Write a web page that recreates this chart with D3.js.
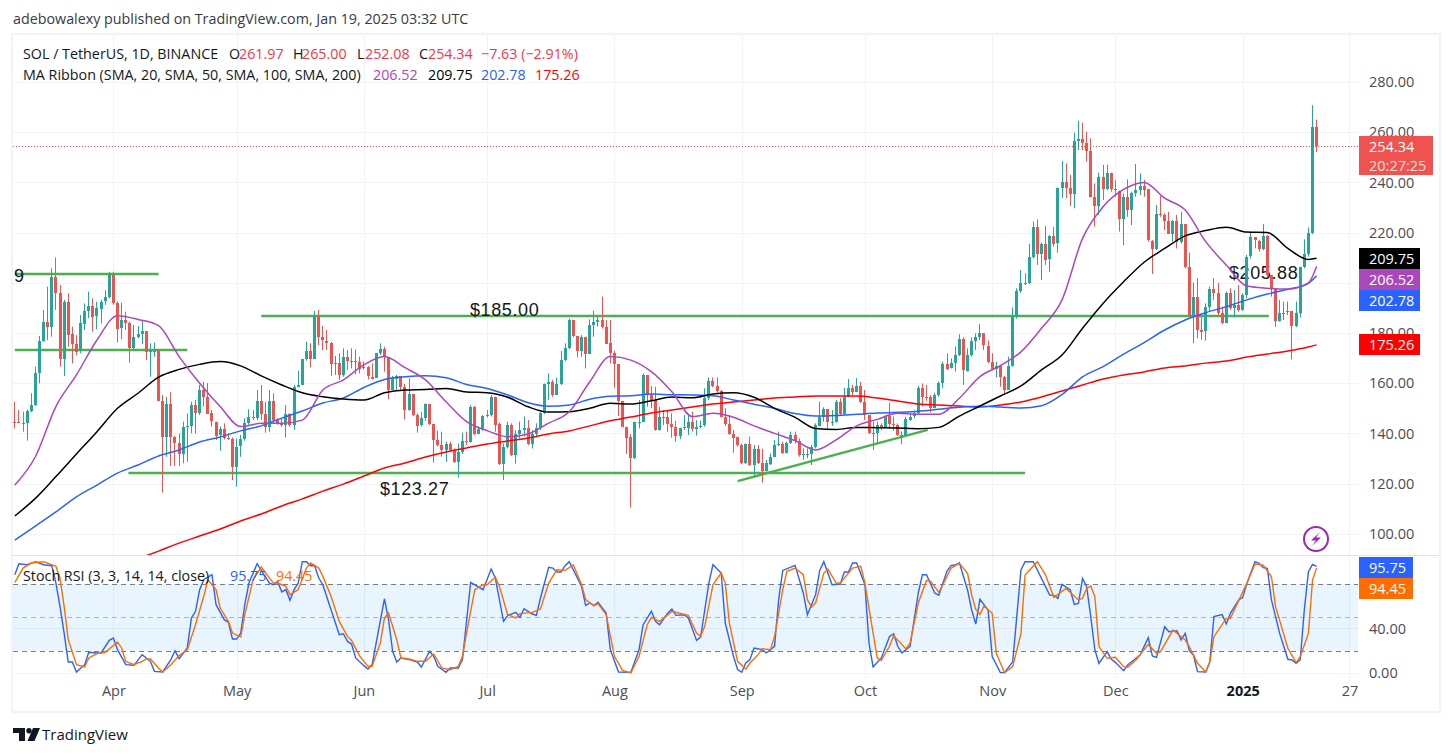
<!DOCTYPE html>
<html>
<head>
<meta charset="utf-8">
<script src="https://cdn.jsdelivr.net/npm/d3@7"></script>
<style>
  html, body { margin: 0; padding: 0; background: #fff; overflow: hidden; }
  text { font-family: "Open Sans", "Noto Sans", sans-serif; }
</style>
</head>
<body>
<script>
// daily candles, first one is 8 Mar 2024. open of a candle = close of the one before
const firstDay = new Date(Date.UTC(2024, 2, 8));
const firstOpen = 144.6;

const closes = [144.4,144.3,144.1,148.9,151.3,163.9,176.8,184.4,182.3,202.4,
196.1,169.9,192.5,179.5,175.6,172.6,183.9,188.9,190.8,186.5,
189.8,192.5,194.2,203.1,192.1,181.9,185.2,184.1,174.3,178.5,
179.5,180.8,172.6,172.8,172.8,153,138.7,151.7,138.7,136.3,
131.8,142.7,143,151.3,148.3,157.3,154.6,148,144.7,139.1,
141.6,138,137.9,126.8,134.7,137.6,144,146.4,146.3,152.9,
147.7,142.4,152.9,145.4,144.3,143.4,147.7,143.4,158.6,159.3,
169.6,172.8,169.6,187.2,178.3,177,176.2,167.7,168.2,163.3,
170.3,168.6,168.8,168.6,165.9,166.3,162.6,161.9,171.9,173.6,
170.3,157.3,161.9,162.9,158.6,149.3,155.6,147.3,143.1,146,
151.7,143.7,137.4,135.4,133.4,135.8,133.4,128.7,132.7,137,
136.7,150.6,139.7,141.6,146.9,147.3,154.6,143.6,127.8,134.7,
143.3,131.4,139.6,141.3,142,135.8,139.8,142,148,159.7,
160.6,155.3,159.7,169.2,173.9,185.2,178.8,172.8,178.5,171.6,
183.2,184.5,185.2,182.5,175.9,171.9,167.6,153,142.7,138.4,
130,144.4,144.7,163.3,155.3,153.3,141.4,146.7,146.4,143.8,
142.7,139,142,142.4,144.7,142,142.7,143.1,154,160.9,
159,156.9,146.7,143.8,139.8,138.4,135.4,128.1,135.6,127.4,
133.8,128.1,124.8,128.1,130.7,135.4,135.8,132.3,136.3,139.4,
137.1,131.4,131.8,131.8,134.5,143.3,146.7,149.7,144.7,144.7,
152.6,147.7,154.6,158,156.6,158.9,152.6,147.3,140.3,140,
143.3,142,146.9,143.8,143.4,139.4,139.4,145.6,146.7,148,
158,154.6,154.4,150,155.3,160,167.7,165.9,167.9,171.2,
177.5,165,171.2,176.9,178.3,179.9,175,168.6,165.9,167,
162.6,157.6,167,186.5,196.9,200.1,200.1,210.4,222.4,211.5,
215.5,209.3,218.6,215.5,237.6,240,237.6,235.4,256.4,257.2,
255.6,252.6,234.3,230.6,242,237.2,243.6,237.2,236.7,225.7,
234.3,229,235.9,237,238.6,237.2,216.8,213.5,227.4,227,
224.8,219.7,224.8,216.4,223.4,206.2,187.2,194.5,181.2,180.5,
190.2,197.4,195.8,187.8,183.9,196,190.2,191.2,189.2,195.1,
210.4,218.1,216.8,213.5,218.6,203.1,197.8,184.5,187.8,188.1,
188.6,182.5,187.8,206.2,211.5,219.7,261.97,254.34];

const highs = [152.6,149.3,148.7,149.5,156,166.6,178.8,189.2,198.5,205.8,
210.1,199.1,193.2,195.8,182.5,179.2,187.2,191.8,196.5,193.8,
192.5,193.2,197.1,204.4,204.4,192.5,192.1,188.5,184.5,183.2,
182.8,185.2,180.8,175.9,176.2,173.2,155.3,154.6,156.4,138.9,
140,144.7,148,152.6,153.3,159.3,160.6,160,149.3,144.7,
142.7,144,140,138.4,138,139.4,146,149.6,149.3,157.3,
159.3,152.6,157.3,156,146,146,151.3,148,159.3,165,
169.6,176.5,175.9,188.8,189.2,182.8,181.2,176.4,170.8,171.9,
173.9,173.2,173.9,173.5,170.6,168.6,166.8,167.9,172.1,175.9,
174.5,170.3,162.9,163.3,162.9,159.7,161.9,155.3,148,148.6,
152,151.7,143.7,141.1,140.7,136.7,136.7,134,136,140.3,
140.7,151.3,150.9,142.7,147.3,149.3,155.3,154.6,144.3,136,
144.7,144,141.3,144.7,146.7,145.3,141.3,144,148.6,159.9,
163.9,161.3,162.2,172.9,175.9,185.8,185.2,178.8,179.2,178.5,
185.4,188.9,187.2,194.5,185.2,185.2,172.9,167.6,153,142.7,
139.7,144.7,153.3,163.9,163.3,158.9,158.6,150.6,149.3,149.3,
148,145,142.3,147.3,147.3,148.7,145.3,145.1,158,162.3,
162.3,162.3,157.3,150,147.3,141.4,138.7,135.8,136,138.7,
135.4,135.4,133.8,129.4,132,137.4,140.7,136.7,136.7,140.7,
140.7,138,134,134,135.4,144,152.6,150.4,149.7,149.3,
153.3,154,158.2,161.7,159.3,162,160.6,157.3,146.7,144.7,
144.7,144,147.3,152.2,146.7,144,140.7,146.7,148,149.1,
158.9,159.9,159.3,155.3,156.2,160.6,168.6,171.9,169.9,174.6,
179.5,178.3,173.9,178.3,179.9,183.6,179.9,177,171.9,168.6,
167.3,162.9,170.6,190.2,197.8,205.1,203.8,215.5,224.4,225.3,
216,222.6,219,222.3,238,248.5,247.6,243,259.8,264.5,
263.8,260.2,257.6,239.6,243.9,247,247,243.9,241,236.7,
235.6,241.2,236.3,247.3,243.6,241,237.2,217.1,231,234.6,
227.7,228.3,225,227,228.3,223.4,212,200,201.8,186.5,
191.8,198.5,201.8,200,190.5,196.5,197.8,197.1,199.1,195.8,
211.1,220.4,218.1,217.1,223.4,219,203.1,197.8,193.2,192.5,
192.5,188.6,192.5,206.4,217.3,222.1,270.8,265];

const lows = [142,144,140.7,137.1,148.4,151,160,176.5,177.2,178.5,
189.2,166.6,162.9,174.6,167.9,171.2,171.9,181.2,185.9,180.5,
181.5,183.9,191.2,193.8,191.2,176.2,177.5,181.2,168.2,173.2,
177.9,175.6,169.2,162.6,170.6,153,116.4,130.7,127,127,
127,128.1,128.7,140,140,147.3,150.7,147.7,142.7,137.4,
133.1,137.6,137.4,121.4,118.8,130.7,137.1,143.4,145.3,145.3,
145.3,140.3,140.7,144,143.4,142.7,138.3,142.7,141.4,158.4,
159.3,169,166.3,169.6,175.2,173.2,173.2,162.9,163.3,161.3,
162.6,165.2,165.9,163.6,163.9,165.5,161.5,161.5,164.6,171.2,
164.6,153.6,157.3,157,157.3,145.6,149,146.9,140.3,142.7,
145,143.3,128.3,134.7,130.7,128.7,132.7,128.3,122.4,131.8,
135.4,136.3,139.3,139.7,141.1,146.4,146.7,140.7,127.4,121.4,
134,131,128,138,138.7,135.4,134,138.7,141.3,147.7,
153.3,154.6,155.3,159.3,168.8,173.5,178.3,170.3,170.6,165.9,
171.6,178.5,182.5,181.8,175.6,167.9,158.2,146.9,142.7,131.8,
110.5,129.8,142,144.7,150.6,150,141.1,141.1,143.3,140.7,
138.3,136.7,137.8,141.4,139.4,140.7,139.1,142,142.7,153.3,
158.4,156,146.4,143,139.4,132.3,134.7,127.8,127.8,127.1,
123,127.8,120.4,124.8,127.4,130.5,135,131.8,132,135.8,
136,130.7,129.4,130.1,127.4,134,142.7,144.7,141.4,143,
144.3,147.3,147.3,154.4,155.3,156.6,152.2,145.3,139.8,133.4,
136,141.4,142,142,141.1,139,135.8,139,145,146,
147.3,150.7,153,148.3,150,154.6,158,165.3,165.9,164.6,
170.8,159.3,164.6,170.6,173.2,177.2,173.2,168,165.3,162.3,
158.6,155.3,157.3,166.6,185.8,196,199.1,199.5,209.7,207.1,
201.1,207.1,204.4,214.4,212,233.7,233.7,230.6,229.7,252.9,
252.9,248.3,234,222.4,227,233,237,236.3,234.3,220.4,
215,226.3,223,234.3,235,234.3,216.4,203.5,213,226.3,
221,219.4,216.4,213.7,215.7,205.8,186.5,175.9,177.9,177.2,
176.9,188.5,193.2,187.2,183.6,183.9,189.2,186.2,188.5,188.9,
193.8,209.7,213.7,212.4,213,202.4,194.5,182.5,184.5,185.2,
187.2,169.5,182.3,186.2,205.8,210.4,219.4,252.08];

// moving averages every 5th candle (and the last one)
const ma20 = [119.4,130.7,150.7,163.3,177.2,186.9,185.4,182.9,170.6,160,150.7,142.7,144,144,145.3,157.3,161.3,
167.3,170.6,166.2,161.3,152.6,144.7,141.1,138.7,139.8,144.1,148.6,160.6,170.6,169.2,164.6,
156.6,146.7,148,146.4,143,140,137.1,133.4,137.4,143,145.6,148,147.6,147.6,154,162.6,167,
172.5,181.9,193.2,217.7,230.3,237.2,240,233.7,229,216.4,207.1,198.7,197.8,197.5,200,206.52];
const ma50 = [107.1,114.1,122.8,131.8,140.7,150,156,162.4,165.5,167.5,168.6,166.9,162.9,159.3,156.2,154.6,153.7,
153.3,156.2,157.3,157.5,157.9,156.5,156.2,154.4,150.6,148.5,148.6,150,152,151.7,153,
154.5,154.2,155.7,156.2,154.4,150,146.4,142,141.6,142.4,142.3,142.2,141.9,142.4,146.9,150.9,154.9,
158.9,165.3,171.2,181.9,191.8,200.4,208.2,213.7,218.7,220.8,222.1,220.2,220,213.7,209.3,209.75];
const ma100 = [97.5,103.1,108.7,114.7,119.4,124.2,127.4,131,133.4,136.6,138.6,141,143,146.1,148.9,152.1,154.1,
158.3,161.5,162.6,163,162.2,159.5,157.9,155.3,152.2,150.8,151.3,153.6,154.8,155,155.7,
155.4,155.3,155,153.3,151.6,150,147.9,146.9,147.1,147.6,148.1,148.4,148.8,149.6,150.4,150.8,150.5,
150.1,151,155.5,162.5,166.6,171.6,176.2,181.2,185.2,188.1,190.5,193.2,195.5,197.4,199.8,202.78];
// ma200 only comes into the visible pane around candle 34
const ma200 = [90.1,93.1,96.3,99.1,101.9,105.1,107.9,111.1,113.9,117,119.8,
123,126.2,128.2,130.6,132.6,134.2,135.8,137,138.2,139.8,
141,143,145,146.5,148.1,149.3,150.5,151.7,152.5,153.3,
154.1,154.5,154.9,154.9,154.9,154.1,152.9,151.7,151.3,150.9,
150.5,151.3,152.5,154.5,156.9,159.3,161.7,163.3,164.5,166.1,
166.9,168,168.8,170.4,171.6,172.8,174.4,175.26];

// stoch rsi, corners of the lines: candle number + value
const kDays = [1,2,4,6,8,10,11,12,13,14,15,16,18,19,21,22,24,25,26,28,30,32,34,35,37,39,40,41,43,44,45,46,47,49,50,52,53,54,55,56,57,58,60,63,64,65,66,67,68,69,70,71,72,73,74,75,76,78,80,81,82,83,84,86,87,88,91,92,93,94,95,97,99,100,102,103,104,106,107,109,110,112,
115,117,118,120,121,123,124,125,127,128,129,131,132,133,134,135,136,139,140,141,142,143,145,146,148,151,153,154,156,157,158,160,161,162,164,165,167,168,170,171,173,174,176,177,178,179,180,181,183,184,186,187,188,191,193,194,196,197,198,200,202,203,204,205,206,208,209,210,212,214,215,216,217,219,221,222,223,225,226,228,229,
230,231,233,234,235,236,238,239,241,242,244,246,247,249,253,254,255,256,258,259,260,261,262,263,264,265,267,268,269,271,272,274,275,277,278,279,281,282,284,285,286,287,288,289,291,292,293,295,296,297,299,300,301,303,304,305,306,307,309,311,312,313,314,315,316,317,318];
const kValues = [88.3,98.2,97.3,100,97.3,96.4,80.8,59.9,35.9,9.9,9.9,0.9,7.5,18.6,18,18,29.3,31.4,21,7.5,6.9,16.5,10.5,1.5,0.9,12,20,12.9,22.5,49.4,55.4,74.9,83.8,88.3,61.4,47.9,45.5,30.5,30.5,35.9,61.4,80.8,98.2,80.8,79.3,82.3,72.8,74.9,65.3,74.9,80.8,100,100,96.4,96.4,85.3,79.3,56.9,34.4,35.3,28.4,26,13.5,6.6,3.6,7.5,66.5,47.9,19.5,9.9,13.5,12,9.9,5.4,19.5,15,6,0.6,4.5,4.5,12,81.4,
74.9,93.4,85.3,46.4,51.5,54.5,50,57.8,53,51.8,67.4,94.9,94.3,90.7,90.7,96.4,100,77.8,60.8,62.9,60.5,63.5,53.9,21,0.9,0.6,21,43.4,55.4,46.4,43.4,53.9,57.5,51.8,52.4,49.4,29.3,32.3,80.8,97.3,89.8,44.9,15,3,0.6,9,12,22.5,21,18,23.9,65.9,92.2,96.7,71.9,52.4,70.4,92.2,100,79.3,79.9,90.7,90.7,98.8,98.8,79.3,26.9,5.4,13.5,32.9,35.3,24,18,24,71.9,88.3,88.3,71.9,69.8,91.6,96.7,
97,99.1,74.6,56.6,44,66.2,56.6,14.7,0.3,0.3,10.2,92.5,100,100,70.1,69.8,67.1,79.6,74.6,61.7,62.6,85,77.5,50.6,20.7,8.7,19.2,12.3,9.6,2.1,7.2,13.2,16.2,31.7,15.3,14.1,41.6,37.1,38,29.6,35.6,20.1,16.2,1.2,0.9,10.2,50.6,52.4,44,53.6,65.6,67.7,80.5,100,98.5,94.6,94,65.6,35.6,12.3,11.7,8.7,11.7,56.6,91,97.6,95.75];
const dDays = [1,3,5,8,11,12,13,14,16,18,19,21,23,26,27,28,30,32,33,34,36,37,39,41,43,45,47,48,50,51,53,54,56,57,59,61,63,64,65,67,68,70,72,73,75,76,78,80,82,83,85,87,88,90,91,92,94,95,97,99,101,103,105,107,109,110,111,113,115,
116,118,119,121,123,124,127,129,131,133,135,137,139,140,142,143,145,147,149,151,153,155,156,158,161,165,167,168,169,171,173,174,175,177,179,180,182,183,185,186,188,189,191,193,194,195,196,198,199,201,202,205,207,208,210,211,212,214,215,218,219,221,223,224,226,227,229,
231,233,234,235,236,237,239,240,242,244,246,247,250,252,254,257,260,261,262,263,264,265,267,269,271,272,274,277,279,280,283,286,287,289,291,292,293,296,297,301,303,305,307,308,311,313,314,316,317,318];
const dValues = [81.4,94.3,98.8,100,95.8,85.3,59.9,29.9,7.5,5.4,13.5,17.4,18.6,27.8,22.5,10.5,7.5,10.5,12.6,12.6,4.5,0.9,7.5,15.6,21,43.4,68.9,83.8,74.9,58.4,46.4,35.9,32.3,52.4,83.8,95.2,85.3,80.8,80.8,77.8,70.4,74.9,94.3,98.8,94.3,86.8,68.9,46.4,32.9,29.3,15,6,6,26.9,49.4,53.9,29.9,13.5,12.6,10.5,10.5,17.1,4.5,3,6,15,35.9,74.9,79.3,
79.3,86.2,77.8,52.4,49.4,53.3,54.5,57.5,80.8,92.8,92.2,97.3,79.3,65.9,60.5,62.3,52.4,15,2.4,0,15,43.4,50,46.4,55.4,51.8,35.9,32.9,41.9,79.3,89.8,80.8,44.9,10.5,3.6,9,16.5,21.9,21,32.9,74.9,91.3,94.3,88.3,65.9,59.3,62.9,89.8,93.4,80.8,80.8,94.3,95.8,80.8,35.9,13.5,11.4,24,33.5,21.6,26.9,62.9,83.2,82.3,72.5,79.3,94.3,
98.5,89.5,70.1,57.2,52.7,60.2,53.6,17.7,0.3,5.7,35.6,88,100,88,68,76,65.6,67.1,76,78.1,68.6,23.7,13.2,14.1,5.7,5.1,11.7,25.7,17.7,19.2,38.6,29.6,23.7,8.7,0.9,10.2,32.6,49.1,49.1,80.5,97.9,97,86.5,59.6,22.2,9.3,14.7,35.6,83.5,94.45];

const priceTicks = [100,120,140,160,180,200,220,240,260,280];
const stochTicks = [0,40];
const monthDates = [[2024,3,1],[2024,4,1],[2024,5,1],[2024,6,1],[2024,7,1],[2024,8,1],[2024,9,1],[2024,10,1],[2024,11,1],[2025,0,1],[2025,0,27]]
    .map(function (d) { return new Date(Date.UTC(d[0], d[1], d[2])); });
const monthLabels = ["Apr","May","Jun","Jul","Aug","Sep","Oct","Nov","Dec","2025","27"];

// drawn levels: candle from, price from, candle to, price to
const greenLines = [[1,203.5,36,203.5],[1,173.2,43,173.2],[61,186.8,306.4,186.8],[28.7,124.2,247,124.2],[177,121,223.3,141.4]];

const upColor = "#26a69a", downColor = "#ef5350";
const width = 1453, height = 756;
const left = 13, right = 1358, paneTop = 35, paneBottom = 555, stochBottom = 678;

const svg = d3.select("body").append("svg")
    .attr("width", width)
    .attr("height", height)
    .style("display", "block");

const x = d3.scaleUtc()
    .domain([monthDates[0], monthDates[9]])
    .range([113.4, 1242.7]);
const y = d3.scaleLinear().domain([100, 280]).range([533.8, 82]);
const yStoch = d3.scaleLinear().domain([0, 100]).range([673, 561.7]);

function dayDate(i) {
    return d3.utcHour.offset(firstDay, (i - 1) * 24);
}
function xDay(i) {
    return x(dayDate(i));
}

// grid
const grid = svg.append("g");
grid.selectAll(".v").data(monthDates).enter().append("line")
    .attr("x1", function (d) { return Math.round(x(d)) + 0.5; })
    .attr("x2", function (d) { return Math.round(x(d)) + 0.5; })
    .attr("y1", paneTop).attr("y2", stochBottom)
    .attr("stroke", "#f0f3fa");
grid.selectAll(".h").data(priceTicks).enter().append("line")
    .attr("x1", left).attr("x2", right)
    .attr("y1", function (d) { return Math.round(y(d)) + 0.5; })
    .attr("y2", function (d) { return Math.round(y(d)) + 0.5; })
    .attr("stroke", "#f0f3fa");
grid.selectAll(".hs").data(stochTicks).enter().append("line")
    .attr("x1", left).attr("x2", right)
    .attr("y1", function (d) { return Math.round(yStoch(d)) + 0.5; })
    .attr("y2", function (d) { return Math.round(yStoch(d)) + 0.5; })
    .attr("stroke", "#f0f3fa");

// clips
const defs = svg.append("defs");
defs.append("clipPath").attr("id", "mainClip").append("rect")
    .attr("x", left).attr("y", paneTop).attr("width", right - left).attr("height", paneBottom - paneTop);
defs.append("clipPath").attr("id", "stochClip").append("rect")
    .attr("x", left).attr("y", paneBottom + 1).attr("width", right - left).attr("height", stochBottom - paneBottom - 1);
defs.append("clipPath").attr("id", "axisClip").append("rect")
    .attr("x", right).attr("y", paneBottom + 1).attr("width", 90).attr("height", stochBottom - paneBottom - 1);

// main pane
const main = svg.append("g").attr("clip-path", "url(#mainClip)");

// last price line
main.append("line")
    .attr("x1", left).attr("x2", right)
    .attr("y1", Math.round(y(closes[closes.length - 1])) + 0.5)
    .attr("y2", Math.round(y(closes[closes.length - 1])) + 0.5)
    .attr("stroke", downColor)
    .attr("stroke-dasharray", "1,2");

// hand drawn levels go under the candles
main.selectAll(".level").data(greenLines).enter().append("line")
    .attr("x1", function (d) { return xDay(d[0]); })
    .attr("y1", function (d) { return y(d[1]); })
    .attr("x2", function (d) { return xDay(d[2]); })
    .attr("y2", function (d) { return y(d[3]); })
    .attr("stroke", "#4caf50")
    .attr("stroke-width", 2.4);

// chart annotations, candles run across them
function note(px, py, s) {
    main.append("text")
        .attr("x", px).attr("y", py)
        .attr("fill", "#131722")
        .style("font-family", "'Liberation Sans', sans-serif")
        .style("font-size", "18px")
        .style("letter-spacing", "0.6px")
        .text(s);
}
note(470, 316, "$185.00");
note(380, 495, "$123.27");
note(1229, 279, "$205.88");
note(14, 282, "9");

const candles = closes.map(function (c, i) {
    return {i: i + 1, open: i == 0 ? firstOpen : closes[i - 1], close: c, high: highs[i], low: lows[i]};
});

const candle = main.selectAll(".candle").data(candles).enter().append("g");
candle.append("rect")
    .attr("x", function (d) { return Math.round(xDay(d.i) - 0.5); })
    .attr("width", 1)
    .attr("y", function (d) { return y(d.high); })
    .attr("height", function (d) { return y(d.low) - y(d.high); })
    .attr("fill", function (d) { return d.close >= d.open ? upColor : downColor; });
candle.append("rect")
    .attr("x", function (d) { return Math.round(xDay(d.i) - 0.5) - 1; })
    .attr("width", 3)
    .attr("y", function (d) { return Math.round(y(Math.max(d.open, d.close))); })
    .attr("height", function (d) { return Math.max(1, Math.round(Math.abs(y(d.open) - y(d.close)))); })
    .attr("fill", function (d) { return d.close >= d.open ? upColor : downColor; });

function drawMa(values, firstCandle, color) {
    const line = d3.line()
        .x(function (d, i) { return xDay(Math.min(firstCandle + i * 5, closes.length)); })
        .y(function (d) { return y(d); })
        .curve(d3.curveMonotoneX);
    main.append("path")
        .attr("d", line(values))
        .attr("fill", "none")
        .attr("stroke", color)
        .attr("stroke-width", 1.5);
}
drawMa(ma200, 31, "#ff0000");
drawMa(ma100, 1, "#2962ff");
drawMa(ma50, 1, "#000000");
drawMa(ma20, 1, "#ab47bc");

// stoch pane
const stoch = svg.append("g").attr("clip-path", "url(#stochClip)");
stoch.append("rect")
    .attr("x", left).attr("width", right - left)
    .attr("y", yStoch(80)).attr("height", yStoch(20) - yStoch(80))
    .attr("fill", "#2196f3").attr("fill-opacity", 0.1);
[[80, "#787b86"], [50, "#b2b5be"], [20, "#787b86"]].forEach(function (b) {
    stoch.append("line")
        .attr("x1", left).attr("x2", right)
        .attr("y1", Math.round(yStoch(b[0])) + 0.5).attr("y2", Math.round(yStoch(b[0])) + 0.5)
        .attr("stroke", b[1])
        .attr("stroke-dasharray", "5,4");
});
function drawStoch(days, values, color) {
    const line = d3.line()
        .x(function (d, i) { return xDay(days[i]); })
        .y(function (d) { return yStoch(d); });
    stoch.append("path")
        .attr("d", line(values))
        .attr("fill", "none")
        .attr("stroke", color)
        .attr("stroke-width", 1.4);
}
drawStoch(kDays, kValues, "#2962ff");
drawStoch(dDays, dValues, "#ff6d00");

// frame and separator
svg.append("rect").attr("x", 12).attr("y", 34).attr("width", 1428).attr("height", 678)
    .attr("fill", "none").attr("stroke", "#f0f3fa").attr("stroke-width", 2);
svg.append("line").attr("x1", left).attr("x2", 1439).attr("y1", 555.5).attr("y2", 555.5).attr("stroke", "#e0e3eb");

// axes
const axisColor = "#4a4d57";
function styleAxis(g) {
    g.select(".domain").remove();
    g.selectAll("text").attr("fill", axisColor).style("font-size", "14.5px");
}
svg.append("g")
    .attr("transform", "translate(1369,0)")
    .call(d3.axisRight(y).tickValues(priceTicks).tickFormat(d3.format(".2f")).tickSize(0).tickPadding(0))
    .call(styleAxis);
svg.append("g").attr("clip-path", "url(#axisClip)").append("g")
    .attr("transform", "translate(1369,0)")
    .call(d3.axisRight(yStoch).tickValues(stochTicks).tickFormat(d3.format(".2f")).tickSize(0).tickPadding(0))
    .call(styleAxis);
svg.append("g")
    .attr("transform", "translate(0,686)")
    .call(d3.axisBottom(x).tickValues(monthDates).tickFormat(function (d, i) { return monthLabels[i]; }).tickSize(0).tickPadding(0))
    .call(styleAxis)
    .selectAll("text")
    .style("font-weight", function (d, i) { return monthLabels[i] == "2025" ? "700" : "400"; })
    .attr("fill", function (d, i) { return monthLabels[i] == "2025" ? "#131722" : axisColor; });

// price labels on the right
function priceTag(yTop, h, w, color, lines) {
    svg.append("rect").attr("x", 1359).attr("y", yTop).attr("width", w).attr("height", h).attr("fill", color);
    lines.forEach(function (l, i) {
        svg.append("text")
            .attr("x", 1369)
            .attr("y", yTop + 15.5 + i * 19)
            .attr("fill", i == 0 ? "#fff" : "rgba(255,255,255,0.8)")
            .style("font-size", "14.5px")
            .text(l);
    });
}
priceTag(136, 39, 74, "#ef5350", ["254.34", "20:27:25"]);
priceTag(248, 21, 61, "#000000", ["209.75"]);
priceTag(269, 21, 61, "#ab47bc", ["206.52"]);
priceTag(290, 21, 61, "#2962ff", ["202.78"]);
priceTag(334, 21, 61, "#ff0000", ["175.26"]);
priceTag(557, 21, 54, "#2962ff", ["95.75"]);
priceTag(578, 21, 54, "#ff6d00", ["94.45"]);

// legend rows
function legend(px, py, s, color) {
    svg.append("text")
        .attr("x", px).attr("y", py)
        .attr("fill", color)
        .style("font-size", "14.3px")
        .text(s);
}
const ink = "#131722", legendRed = "#f23645";
legend(13, 24, "adebowalexy published on TradingView.com, Jan 19, 2025 03:32 UTC", "#363a45");
legend(23, 59, "SOL / TetherUS, 1D, BINANCE", ink);
legend(229, 59, "O", ink);
legend(239, 59, "261.97", legendRed);
legend(293, 59, "H", ink);
legend(302, 59, "265.00", legendRed);
legend(357, 59, "L", ink);
legend(365, 59, "252.08", legendRed);
legend(419, 59, "C", ink);
legend(428, 59, "254.34", legendRed);
legend(481, 59, "\u22127.63 (\u22122.91%)", legendRed);
legend(23, 80, "MA Ribbon (SMA, 20, SMA, 50, SMA, 100, SMA, 200)", ink);
legend(373, 80, "206.52", "#ab47bc");
legend(428, 80, "209.75", "#000000");
legend(481, 80, "202.78", "#2962ff");
legend(535, 80, "175.26", "#ff0000");
legend(23, 581, "Stoch RSI (3, 3, 14, 14, close)", ink);
legend(230, 581, "95.75", "#2962ff");
legend(276, 581, "94.45", "#ff6d00");

// the little purple news icon
svg.append("circle").attr("cx", 1316).attr("cy", 539).attr("r", 12)
    .attr("fill", "#fff").attr("stroke", "#9c27b0").attr("stroke-width", 2);
svg.append("path")
    .attr("d", "M1320 532L1311 540.5H1316L1312 546L1321 537.5H1316Z")
    .attr("fill", "#9c27b0");

// footer logo
svg.append("path")
    .attr("d", "M13 728H25V741H19V733H13ZM33 728H40L34.5 741H27.5Z")
    .attr("fill", "#131722");
svg.append("circle").attr("cx", 29).attr("cy", 730.7).attr("r", 2.7).attr("fill", "#131722");
svg.append("text")
    .attr("x", 42).attr("y", 739.5)
    .attr("fill", "#131722")
    .style("font-size", "15px")
    .style("font-weight", "500")
    .text("TradingView");
</script>
</body>
</html>
